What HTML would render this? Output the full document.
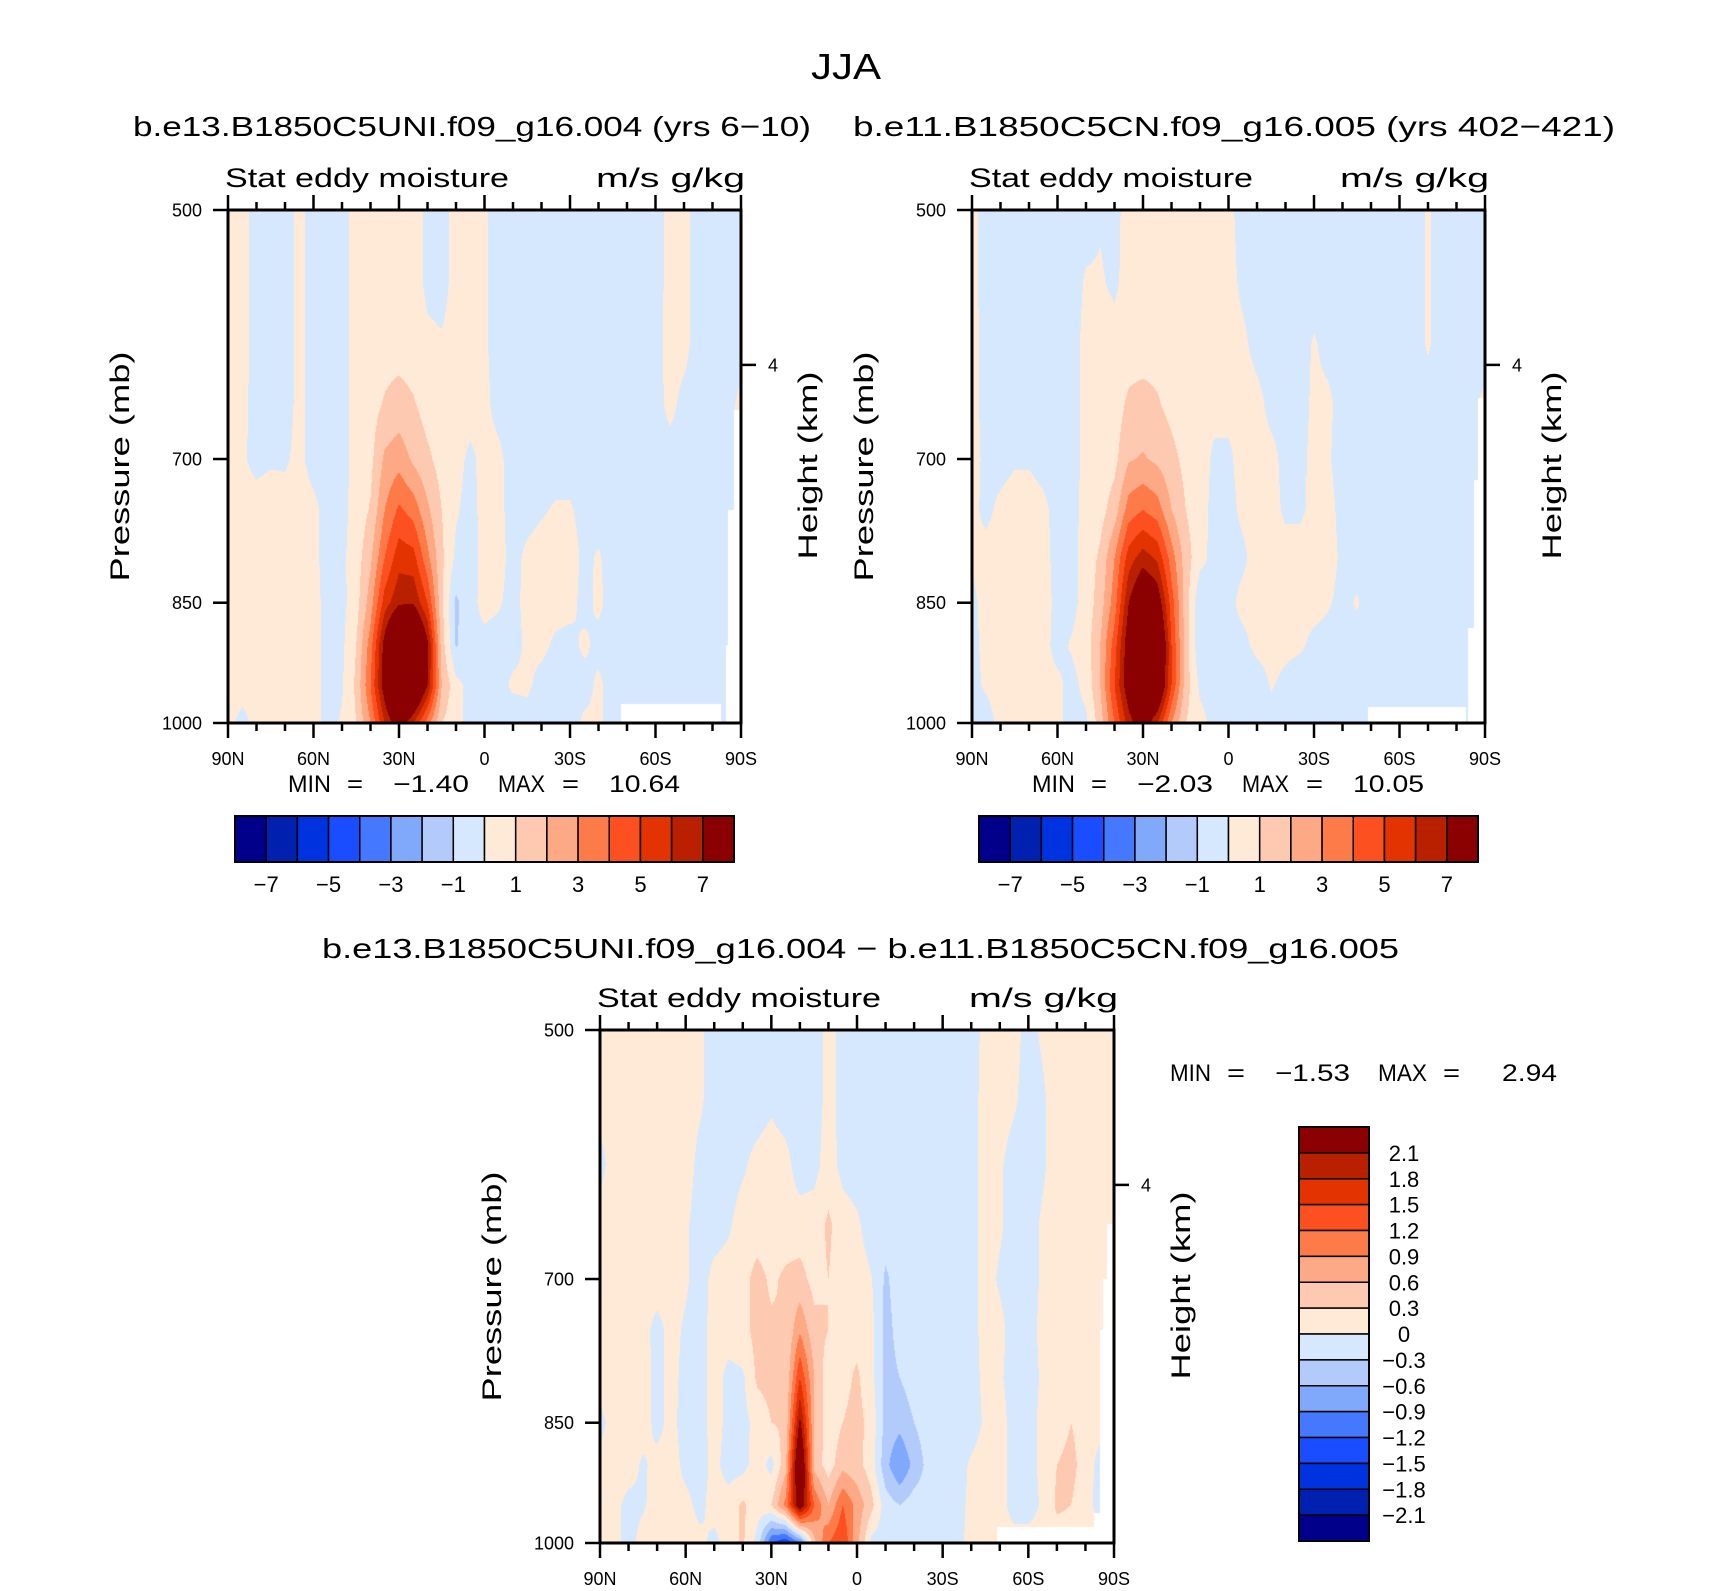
<!DOCTYPE html>
<html><head><meta charset="utf-8">
<style>
html,body{margin:0;padding:0;background:#fff;}
#root{position:relative;width:1710px;height:1591px;overflow:hidden;background:#fff;}
canvas{position:absolute;}
svg{position:absolute;left:0;top:0;}
text{font-family:"Liberation Sans",sans-serif;fill:#000;}
</style></head>
<body>
<div id="root">
<canvas id="cv1"></canvas>
<canvas id="cv2"></canvas>
<canvas id="cv3"></canvas>
<svg id="ov" width="1710" height="1591">
<text x="846" y="79" font-size="36" text-anchor="middle" textLength="70" lengthAdjust="spacingAndGlyphs">JJA</text>
<text x="133" y="136" font-size="28" textLength="678" lengthAdjust="spacingAndGlyphs">b.e13.B1850C5UNI.f09_g16.004 (yrs 6−10)</text>
<text x="853" y="136" font-size="28" textLength="762" lengthAdjust="spacingAndGlyphs">b.e11.B1850C5CN.f09_g16.005 (yrs 402−421)</text>
<text x="322" y="958" font-size="28" textLength="1077" lengthAdjust="spacingAndGlyphs">b.e13.B1850C5UNI.f09_g16.004 − b.e11.B1850C5CN.f09_g16.005</text>
<g id="axes"></g>
</svg>
</div>
<script>
// ---- shared axes data ----
const latitudes = [90,85,80,75,70,65,60,55,50,45,40,35,30,25,20,15,10,5,0,-5,-10,-15,-20,-25,-30,-35,-40,-45,-50,-55,-60,-65,-70,-75,-80,-85,-90];
const levels = [500,550,600,650,700,750,800,850,900,950,1000];
const xTickLats = [90,60,30,0,-30,-60,-90];
const xTickLabels = ["90N","60N","30N","0","30S","60S","90S"];
const yTickLevels = [500,700,850,1000];
const yTickLabels = ["500","700","850","1000"];
const heightTickKm = [4];
const colors = ["#00008b","#0020b0","#0033e0","#1a4dff","#4479ff","#80a8fb","#b2cbfb","#d6e8fd","#ffead7","#fdc9b0","#fda985","#fd7b49","#fd5020","#e23300","#b82000","#8b0000"];
const boundsAbs = [-7,-6,-5,-4,-3,-2,-1,0,1,2,3,4,5,6,7];
const boundsDiff = [-2.1,-1.8,-1.5,-1.2,-0.9,-0.6,-0.3,0,0.3,0.6,0.9,1.2,1.5,1.8,2.1];
const cbLabelsAbs = ["−7","−5","−3","−1","1","3","5","7"];
const cbLabelsDiff = ["2.1","1.8","1.5","1.2","0.9","0.6","0.3","0","−0.3","−0.6","−0.9","−1.2","−1.5","−1.8","−2.1"];
const stats1 = ["−1.40","10.64"];
const stats2 = ["−2.03","10.05"];
const stats3 = ["−1.53","2.94"];
// missing-data regions: [latFrom, latTo, pressureFrom]
const missing1 = [[-48,-83,974],[-87.4,-90,655],[-85.5,-90,750],[-84.8,-90,900]];
const missing2 = [[-49,-83.5,978],[-87.5,-90,645],[-86,-90,720],[-84,-90,880]];
const missing3 = [[-49,-83.3,978],[-87.5,-90,650],[-86.3,-90,700],[-85,-90,750],[-83,-90,960]];

// ---- panel 1 values (rows = levels, cols = latitudes) ----
const p1r500 = [.2,.3,-.3,-.3,-.3,.2,-.3,-.3,-.3,.3,.4,.4,.4,.4,-.2,-.3,.3,.3,.1,-.3,-.4,-.4,-.4,-.4,-.4,-.4,-.4,-.4,-.4,-.4,-.4,.3,.2,-.3,-.3,-.3,-.3];
const p1r550 = [.2,.3,-.3,-.3,-.3,.2,-.3,-.3,-.3,.3,.4,.4,.5,.4,-.2,-.3,.3,.3,.1,-.3,-.4,-.4,-.4,-.4,-.4,-.4,-.4,-.4,-.4,-.4,-.4,.3,.2,-.3,-.3,-.3,-.3];
const p1r600 = [.2,.3,-.3,-.3,-.3,.2,-.3,-.3,-.3,.3,.5,.6,.6,.5,.2,.1,.3,.3,.1,-.3,-.4,-.4,-.4,-.4,-.4,-.4,-.4,-.4,-.4,-.4,-.3,.3,.2,-.3,-.3,-.3,-.3];
const p1r650 = [.3,.2,-.3,-.3,-.3,.2,-.3,-.3,-.3,.3,.6,1.1,1.4,1.1,.6,.5,.5,.4,.2,-.3,-.4,-.4,-.4,-.4,-.4,-.4,-.4,-.4,-.4,-.4,-.3,.2,-.2,-.3,-.3,-.3,.2];
const p1r700 = [.3,.1,-.2,-.1,-.1,.2,-.3,-.3,-.3,.3,.7,2.2,2.6,1.8,1.2,.6,.3,-.2,.3,.2,-.4,-.4,-.4,-.4,-.4,-.4,-.4,-.4,-.4,-.4,-.4,-.3,-.3,-.3,-.3,-.3,.2];
const p1r750 = [.4,.3,.3,.4,.3,.3,.2,-.3,-.3,.4,1.1,3.0,4.2,3.6,2.2,1.0,.1,-.3,.3,.2,-.3,-.3,-.1,.1,.1,-.3,-.4,-.4,-.4,-.4,-.4,-.4,-.4,-.4,-.4,-.4,-.4];
const p1r800 = [.4,.4,.4,.4,.3,.3,.2,-.3,-.2,.5,1.8,4.0,5.6,5.4,3.3,1.2,-.2,-.4,.3,.3,-.3,.2,.4,.4,.4,-.2,.1,-.4,-.4,-.4,-.4,-.4,-.4,-.4,-.4,-.4,-.4];
const p1r850 = [.4,.4,.4,.4,.3,.3,.3,-.3,-.3,.6,2.5,5.5,6.8,6.9,5.0,1.2,-1.2,-.3,.3,.1,-.3,.3,.4,.4,.3,-.3,.2,-.4,-.4,-.4,-.4,-.4,-.4,-.4,-.4,-.4,-.4];
const p1r900 = [.4,.4,.4,.4,.3,.3,.3,-.3,-.2,1.0,3.5,7.6,11,11,7.3,1.5,-1.1,-.3,-.3,-.4,-.4,.2,.3,-.2,-.3,.2,-.3,-.4,-.4,-.4,-.4,-.4,-.4,-.4,-.4,-.4,-.4];
const p1r950 = [.4,.4,.4,.3,.3,.3,.3,-.3,-.1,1.2,4,7.8,11,10.5,7,2,.3,-.3,-.4,-.4,.2,.2,-.4,-.8,-.5,-.4,.2,-.4,-.4,-.4,-.4,-.6,-.4,-.4,-.4,-.4,-.4];
const p1r1000 = [.3,-.3,.3,.3,.3,.3,.3,-.3,.1,1.0,3,6,8,6,3.5,1.0,.3,-.3,-.3,-.4,-.7,-.4,-.8,-.9,-.4,.2,.2,-.4,-.4,-.4,-.4,-.4,-.4,-.4,-.4,-.4,-.4];
const panel1Rows = [p1r500,p1r550,p1r600,p1r650,p1r700,p1r750,p1r800,p1r850,p1r900,p1r950,p1r1000];

// ---- panel 2 values ----
const p2r500 = [.3,-.4,-.4,-.4,-.4,-.4,-.4,-.4,-.4,-.1,-.3,.4,.5,.5,.5,.5,.5,.4,.2,-.3,-.4,-.4,-.4,-.4,-.4,-.4,-.4,-.4,-.4,-.4,-.4,-.4,.1,-.4,-.4,-.4,-.4];
const p2r550 = [.3,-.4,-.4,-.4,-.4,-.4,-.4,-.4,.1,.1,-.2,.4,.5,.5,.5,.5,.5,.4,.3,-.2,-.4,-.4,-.4,-.4,-.4,-.4,-.4,-.4,-.4,-.4,-.4,-.4,.1,-.4,-.4,-.4,-.4];
const p2r600 = [.3,-.3,-.4,-.4,-.4,-.4,-.4,-.4,.3,.4,.4,.5,.5,.6,.6,.5,.5,.5,.4,.2,-.3,-.4,-.4,-.4,.1,-.3,-.4,-.4,-.4,-.4,-.4,-.4,.1,-.4,-.4,-.4,-.4];
const p2r650 = [.3,-.3,-.4,-.4,-.4,-.4,-.4,-.4,.3,.4,.5,1.2,1.4,1.1,.7,.5,.4,.3,.3,.4,.3,-.3,-.4,-.4,.2,.2,-.4,-.4,-.4,-.4,-.4,-.4,-.4,-.4,-.4,-.2,.2];
const p2r700 = [.3,-.2,-.3,-.1,-.1,-.3,-.4,-.4,.3,.4,.7,1.9,2.1,1.8,1.3,.7,.5,-.2,-.2,.4,.4,.3,-.3,-.3,.3,.1,-.4,-.4,-.4,-.4,-.4,-.4,-.4,-.4,-.4,-.3,.1];
const p2r750 = [.2,-.2,.2,.4,.4,.2,-.3,-.3,.3,.6,1.5,3.5,4,3.5,2,1,.4,-.3,-.3,.2,.4,.4,-.2,-.2,.3,.3,-.3,-.4,-.4,-.4,-.4,-.4,-.4,-.4,-.4,-.4,-.4];
const p2r800 = [.1,.3,.4,.4,.4,.3,-.3,-.3,.4,1.2,3,5.5,6.5,5.8,3.5,1.5,.3,-.3,-.4,-.2,.4,.5,.5,.5,.5,.4,-.2,-.4,-.4,-.4,-.4,-.4,-.4,-.4,-.4,-.4,-.4];
const p2r850 = [-.2,.3,.4,.4,.4,.3,-.2,-.3,.4,1.5,3.5,7,9,8,4.5,1.5,-.8,-.3,-.3,.3,.4,.4,.3,.4,.4,.1,-.3,.1,-.4,-.4,-.4,-.4,-.4,-.4,-.4,-.4,-.4];
const p2r900 = [-.2,.2,.4,.4,.4,.3,-.3,.1,.5,2,4.5,8,10.5,10,5,1.5,-.8,-.3,-.3,-.3,.3,.4,.3,.2,-.3,-.4,-.4,-.4,-.4,-.4,-.4,-.4,-.4,-.4,-.4,-.4,-.4];
const p2r950 = [-.2,.1,.3,.4,.4,.3,.2,-.3,.3,2,5,8,10,9.5,5,1.5,-.2,-.3,-.7,-.7,-.6,.1,-.3,-.7,-.4,-.4,-.4,-.4,-.4,-.4,-.4,-.6,-.4,-.4,-.4,-.4,-.4];
const p2r1000 = [-.3,-.3,.2,.3,.3,.3,.2,-.3,-.2,1.5,4,6.5,8,6,3,1,.3,-.3,-.7,-.7,-.5,-.4,-.5,-.7,-.4,-.4,-.4,-.4,-.4,-.4,-.4,-.4,-.4,-.4,-.4,-.4,-.4];
const panel2Rows = [p2r500,p2r550,p2r600,p2r650,p2r700,p2r750,p2r800,p2r850,p2r900,p2r950,p2r1000];

// ---- difference panel values ----
const p3r500 = [.1,.15,.15,.15,.15,.15,.15,.05,-.15,-.15,-.15,-.15,-.15,-.15,-.15,-.15,.1,-.1,-.15,-.15,-.15,-.15,-.15,-.15,-.15,-.15,-.15,.1,.15,.1,-.1,.05,.15,.15,.15,.15,.15];
const p3r550 = [.1,.15,.15,.15,.15,.15,.15,.05,-.15,-.15,-.15,-.15,-.05,-.15,-.15,-.15,.1,-.1,-.15,-.15,-.15,-.15,-.15,-.15,-.15,-.15,-.15,.15,.15,.05,-.15,-.05,.15,.15,.15,.15,.15];
const p3r600 = [-.1,.15,.15,.15,.15,.15,.15,-.1,-.15,-.15,-.05,.1,.15,.1,-.15,-.1,.15,-.1,-.15,-.15,-.15,-.15,-.15,-.15,-.15,-.15,-.15,.15,.05,-.15,-.15,-.05,.15,.15,.15,.15,.15];
const p3r650 = [.15,.15,.15,.15,.15,.15,.05,-.15,-.15,-.05,.15,.15,.15,.15,.15,.15,.35,.15,.05,-.15,-.15,-.15,-.15,-.15,-.15,-.15,-.15,.15,.05,-.15,-.15,.05,.15,.15,.15,.15,.15];
const p3r700 = [.15,.15,.15,.15,.15,.15,.05,-.15,.1,.15,.2,.4,.25,.35,.4,.2,.3,.15,.15,.02,-.35,-.15,-.15,-.15,-.15,-.15,-.15,.15,-.05,-.15,-.15,.05,.15,.15,.15,.15,.1];
const p3r750 = [.15,.15,.15,.1,-.1,.1,-.05,-.15,.15,.15,.2,.4,.35,.3,.85,.4,.3,.2,.2,.1,-.4,-.2,-.15,-.15,-.15,-.15,-.15,.15,.1,-.15,-.15,.1,.15,.15,.15,.15,-.1];
const p3r800 = [.15,.15,.15,.15,-.1,.1,-.1,-.15,.15,-.1,-.05,.35,.4,.3,1.5,.6,.1,.2,.35,.1,-.4,-.3,-.15,-.15,-.15,-.15,-.15,.1,.05,-.15,-.15,.05,.15,.15,.15,.1,-.1];
const p3r850 = [-.1,.15,.15,.15,-.1,.1,-.15,-.15,.15,-.1,-.1,.1,.3,.35,2.2,.6,.1,.3,.4,.2,-.4,-.5,-.3,-.15,-.15,-.15,-.15,.05,.15,-.15,-.15,.1,.15,.3,.15,.1,-.1];
const p3r900 = [.1,.15,.15,-.05,.1,.15,-.1,-.15,.1,-.15,-.1,.15,-.1,.5,2.9,.5,.15,.5,.4,.15,-.5,-.9,-.5,-.2,-.15,-.15,.05,.15,.15,-.15,-.15,.1,.3,.4,.15,-.1,-.1];
const p3r950 = [.15,.1,-.1,-.05,.15,.15,.1,-.1,.15,.15,.35,.15,.3,1.0,2.5,1.2,.6,1.2,.8,.4,-.15,-.3,-.15,-.15,-.15,-.15,.1,.15,.15,-.15,-.15,.05,.35,.3,.1,-.1,-.1];
const p3r1000 = [.15,.15,-.15,.15,.15,.15,.15,.1,-.1,.15,.35,-.1,-1.2,-1.5,-1.0,.5,1.2,1.5,.7,-.1,-.15,-.15,-.15,-.15,-.15,-.15,.15,.15,.15,.15,.15,.15,.15,.15,.15,.15,.15];
const panel3Rows = [p3r500,p3r550,p3r600,p3r650,p3r700,p3r750,p3r800,p3r850,p3r900,p3r950,p3r1000];

// ---- layout ----
const panels = [
  {cv:'cv1', x:228, y:210, w:513, h:513, rows:panel1Rows, bounds:boundsAbs, miss:missing1, name:'panel-1'},
  {cv:'cv2', x:972, y:210, w:513, h:513, rows:panel2Rows, bounds:boundsAbs, miss:missing2, name:'panel-2'},
  {cv:'cv3', x:600, y:1030, w:514, h:513, rows:panel3Rows, bounds:boundsDiff, miss:missing3, name:'panel-diff'}
];
const LN500 = Math.log(500), LNR = Math.log(1000/500);
function xScale(P, lat){ return P.x + (90-lat)/180*P.w; }
function yScale(P, p){ return P.y + (Math.log(p)-LN500)/LNR*P.h; }
function hexToRgb(h){ return [parseInt(h.slice(1,3),16),parseInt(h.slice(3,5),16),parseInt(h.slice(5,7),16)]; }
const rgb = colors.map(hexToRgb);
function colorIndex(v,b){ let i=0; while(i<b.length && v>=b[i]) i++; return i; }
function kmToP(km){ return 1013.25*Math.pow(1-2.25577e-5*km*1000,5.25588); }

function renderPanel(P){
  const cv=document.getElementById(P.cv);
  cv.width=P.w; cv.height=P.h; cv.style.left=P.x+'px'; cv.style.top=P.y+'px';
  const ctx=cv.getContext('2d'); const img=ctx.createImageData(P.w,P.h); const d=img.data;
  const nL=latitudes.length, nP=levels.length;
  for(let py=0;py<P.h;py++){
    const p=Math.exp(LN500+(py+0.5)/P.h*LNR);
    let fj=(p-levels[0])/(levels[1]-levels[0]); if(fj<0)fj=0; if(fj>nP-1)fj=nP-1;
    const j0=Math.min(Math.floor(fj),nP-2), tj=fj-j0;
    for(let px=0;px<P.w;px++){
      const lat=90-(px+0.5)/P.w*180;
      let fi=(latitudes[0]-lat)/(latitudes[0]-latitudes[1]); if(fi<0)fi=0; if(fi>nL-1)fi=nL-1;
      const i0=Math.min(Math.floor(fi),nL-2), ti=fi-i0;
      const r0=P.rows[j0], r1=P.rows[j0+1];
      const v=(r0[i0]*(1-ti)+r0[i0+1]*ti)*(1-tj)+(r1[i0]*(1-ti)+r1[i0+1]*ti)*tj;
      let c=rgb[colorIndex(v,P.bounds)];
      for(const m of P.miss){ const lo=Math.min(m[0],m[1]), hi=Math.max(m[0],m[1]); if(lat<=hi&&lat>=lo&&p>=m[2]){c=[255,255,255];break;} }
      const k=(py*P.w+px)*4; d[k]=c[0];d[k+1]=c[1];d[k+2]=c[2];d[k+3]=255;
    }
  }
  ctx.putImageData(img,0,0);
}
panels.forEach(renderPanel);

const NS='http://www.w3.org/2000/svg';
const g=document.getElementById('axes');
function el(tag,attrs,parent){ const e=document.createElementNS(NS,tag); for(const k in attrs) e.setAttribute(k,attrs[k]); (parent||g).appendChild(e); return e; }
function txt(x,y,s,size,anchor,parent,len){ const t=el('text',{x:x,y:y,'font-size':size,'text-anchor':anchor||'start'},parent); if(len){t.setAttribute('textLength',len);t.setAttribute('lengthAdjust','spacingAndGlyphs');} t.textContent=s; return t; }

panels.forEach(function(P,pi){
  const grp=el('g',{});
  
  
  const top=P.y, bot=P.y+P.h, L=P.x, R=P.x+P.w;
  for(let lat=90;lat>=-90;lat-=10){
    const x=xScale(P,lat); const major=(lat%30===0); const len=major?15:8;
    el('line',{x1:x,y1:top,x2:x,y2:top-len,stroke:'#000','stroke-width':2.5},grp);
    el('line',{x1:x,y1:bot,x2:x,y2:bot+len,stroke:'#000','stroke-width':2.5},grp);
  }
  xTickLats.forEach(function(lat,i){
    const t=txt(xScale(P,lat),bot+42,xTickLabels[i],18,'middle',grp);
    
    
  });
  yTickLevels.forEach(function(p,i){
    const y=yScale(P,p);
    el('line',{x1:L,y1:y,x2:L-15,y2:y,stroke:'#000','stroke-width':2.5},grp);
    const t=txt(L-26,y+6.5,yTickLabels[i],18,'end',grp);
    
    
  });
  heightTickKm.forEach(function(km){
    const y=yScale(P,kmToP(km));
    el('line',{x1:R,y1:y,x2:R+15,y2:y,stroke:'#000','stroke-width':2.5},grp);
    const t=txt(R+27,y+6.5,String(km),18,'start',grp);
    
    
  });
  el('rect',{x:L,y:top,width:P.w,height:P.h,fill:'none',stroke:'#000','stroke-width':3},grp);
  const t1=txt(L-3,top-23,'Stat eddy moisture',27,'start',grp,284);
  
  
  const t2=txt(R+4,top-23,'m/s g/kg',27,'end',grp,149);
  
  
  const yl=txt(0,0,'Pressure (mb)',27,'middle',grp,230);
  yl.setAttribute('transform','translate('+(L-99)+','+(top+P.h/2)+') rotate(-90)');
  
  
  const hl=txt(0,0,'Height (km)',27,'middle',grp,188);
  hl.setAttribute('transform','translate('+(R+76)+','+(top+P.h/2-1)+') rotate(-90)');
  
  
});

function stats(x0,y,vals,offs){
  const sg=el('g',{});
  
  
  txt(x0+offs[0],y,'MIN',24,'start',sg,offs[1]);
  txt(x0+offs[2],y,'=',24,'start',sg,offs[3]);
  txt(x0+offs[4],y,vals[0],24,'start',sg,offs[5]);
  txt(x0+offs[6],y,'MAX',24,'start',sg,offs[7]);
  txt(x0+offs[8],y,'=',24,'start',sg,offs[9]);
  txt(x0+offs[10],y,vals[1],24,'start',sg,offs[11]);
}
const statOffsA=[0,43,59,16,105,76,210,47,274,17,321,71];
stats(288,792,stats1,statOffsA);
stats(1032,792,stats2,statOffsA);
stats(1170,1081,stats3,[0,41,57,18,105,75,208,49,273,17,332,55]);

function hbar(x,y,w,h,name){
  const cg=el('g',{});
  
  
  const bw=w/colors.length;
  colors.forEach(function(c,i){ el('rect',{x:x+i*bw,y:y,width:bw,height:h,fill:c,stroke:'#000','stroke-width':1.5},cg); });
  el('rect',{x:x,y:y,width:w,height:h,fill:'none',stroke:'#000','stroke-width':2},cg);
  cbLabelsAbs.forEach(function(s,k){
    const bx=x+(2*k+1)*bw;
    const t=txt(bx,y+h+30,s,22,'middle',cg);
    
    
  });
}
hbar(235,816,499,46,'colorbar-panel-1');
hbar(979,816,499,46,'colorbar-panel-2');
(function(){
  const x=1299,y=1127,w=70,h=414;
  const cg=el('g',{});
  
  
  const bh=h/colors.length;
  for(let i=0;i<colors.length;i++){ el('rect',{x:x,y:y+i*bh,width:w,height:bh,fill:colors[colors.length-1-i],stroke:'#000','stroke-width':1.5},cg); }
  el('rect',{x:x,y:y,width:w,height:h,fill:'none',stroke:'#000','stroke-width':2},cg);
  cbLabelsDiff.forEach(function(s,k){
    const t=txt(1404,y+(k+1)*bh+8,s,22,'middle',cg);
    
    
  });
})();
</script>
</body></html>
